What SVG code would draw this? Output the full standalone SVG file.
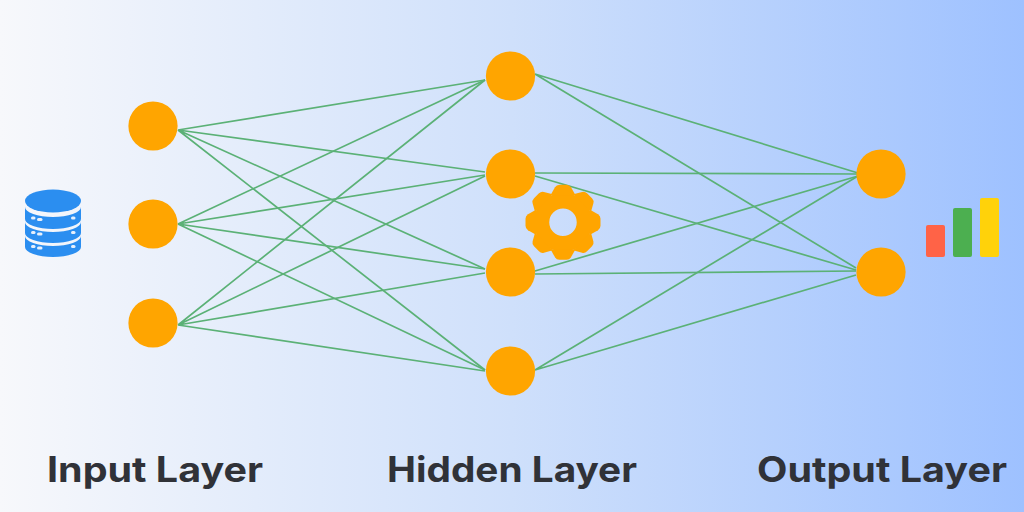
<svg xmlns="http://www.w3.org/2000/svg" width="1024" height="512" viewBox="0 0 1024 512">
<defs>
<linearGradient id="bg" x1="0" y1="0" x2="1" y2="0"><stop offset="0" stop-color="#f7f8fb"/><stop offset="0.5" stop-color="#cfe0fb"/><stop offset="1" stop-color="#9ec1ff"/></linearGradient>
<path id="tooth" d="M-12.5,-27 L-8,-35 Q-6.5,-37.5 -3.5,-37.5 L3.5,-37.5 Q6.5,-37.5 8,-35 L12.5,-27Z"/>
<circle id="n" r="24.6"/>
</defs>
<style>
.c{stroke:#5bb176;stroke-width:1.7;fill:none}
.n{fill:#ffa500}
.t{font-family:"Inter","Liberation Sans",sans-serif;font-weight:700;font-size:35px;fill:#303238}
.db{fill:#2b8ef0}
</style>
<rect width="1024" height="512" fill="url(#bg)"/>
<g id="connectors" class="c">
<path d="M178,130L485,80M178,130L485,172M178,130L485,269M178,130L485,370"/>
<path d="M178,224L485,80M178,224L485,175M178,224L485,269M178,224L485,370"/>
<path d="M178,325L485,80M178,325L485,176M178,325L485,273M178,325L485,371"/>
<path d="M535,74L858,173M535,74L856,268"/>
<path d="M535,173L858,174M535,176L856,270"/>
<path d="M535,271L858,176M535,274L856,271"/>
<path d="M535,370L858,176M535,370L856,275"/>
</g>
<g id="input-1" class="n"><use href="#n" x="153" y="126"/></g>
<g id="input-2" class="n"><use href="#n" x="153" y="224"/></g>
<g id="input-3" class="n"><use href="#n" x="153" y="323"/></g>
<g id="hidden-1" class="n"><use href="#n" x="510.5" y="76"/></g>
<g id="hidden-2" class="n"><use href="#n" x="510.5" y="174"/></g>
<g id="hidden-3" class="n"><use href="#n" x="510.5" y="272"/></g>
<g id="hidden-4" class="n"><use href="#n" x="510.5" y="371"/></g>
<g id="output-1" class="n"><use href="#n" x="881" y="174"/></g>
<g id="output-2" class="n"><use href="#n" x="881" y="272"/></g>
<g id="database" class="db">
<ellipse cx="53" cy="201" rx="28" ry="11.5"/>
<path d="M25,207 A28,10 0 0 0 81,207 L81,219 A28,10 0 0 1 25,219Z"/>
<path d="M25,222 A28,10 0 0 0 81,222 L81,233 A28,10 0 0 1 25,233Z"/>
<path d="M25,236 A28,10 0 0 0 81,236 L81,247 A28,10 0 0 1 25,247Z"/>
<g fill="#e8f0fb"><rect x="31" y="216.5" width="4.5" height="3" rx="1.5"/><rect x="37" y="218" width="5.5" height="3" rx="1.5"/><rect x="71" y="216.5" width="4.5" height="3" rx="1.5"/>
<rect x="31" y="231" width="4.5" height="3" rx="1.5"/><rect x="37" y="232.5" width="5.5" height="3" rx="1.5"/><rect x="71" y="231" width="4.5" height="3" rx="1.5"/>
<rect x="31" y="245" width="4.5" height="3" rx="1.5"/><rect x="37" y="246.5" width="5.5" height="3" rx="1.5"/><rect x="71" y="245" width="4.5" height="3" rx="1.5"/></g>
</g>
<g id="gear" transform="translate(563,222.3)" fill="#ffa500">
<circle r="21.5" fill="none" stroke="#ffa500" stroke-width="15.5"/>
<use href="#tooth"/><use href="#tooth" transform="rotate(45)"/><use href="#tooth" transform="rotate(90)"/><use href="#tooth" transform="rotate(135)"/><use href="#tooth" transform="rotate(180)"/><use href="#tooth" transform="rotate(225)"/><use href="#tooth" transform="rotate(270)"/><use href="#tooth" transform="rotate(315)"/>
</g>
<g id="bars">
<rect x="926" y="225" width="19" height="32" rx="2" fill="#ff6347"/>
<rect x="953" y="208" width="19" height="49" rx="2" fill="#4caf50"/>
<rect x="980" y="198" width="19" height="59" rx="2" fill="#ffd20a"/>
</g>
<g id="labels">
<text class="t" x="47" y="482" textLength="216" lengthAdjust="spacingAndGlyphs">Input Layer</text>
<text class="t" x="387" y="482" textLength="250" lengthAdjust="spacingAndGlyphs">Hidden Layer</text>
<text class="t" x="757" y="482" textLength="250" lengthAdjust="spacingAndGlyphs">Output Layer</text>
</g>
</svg>
